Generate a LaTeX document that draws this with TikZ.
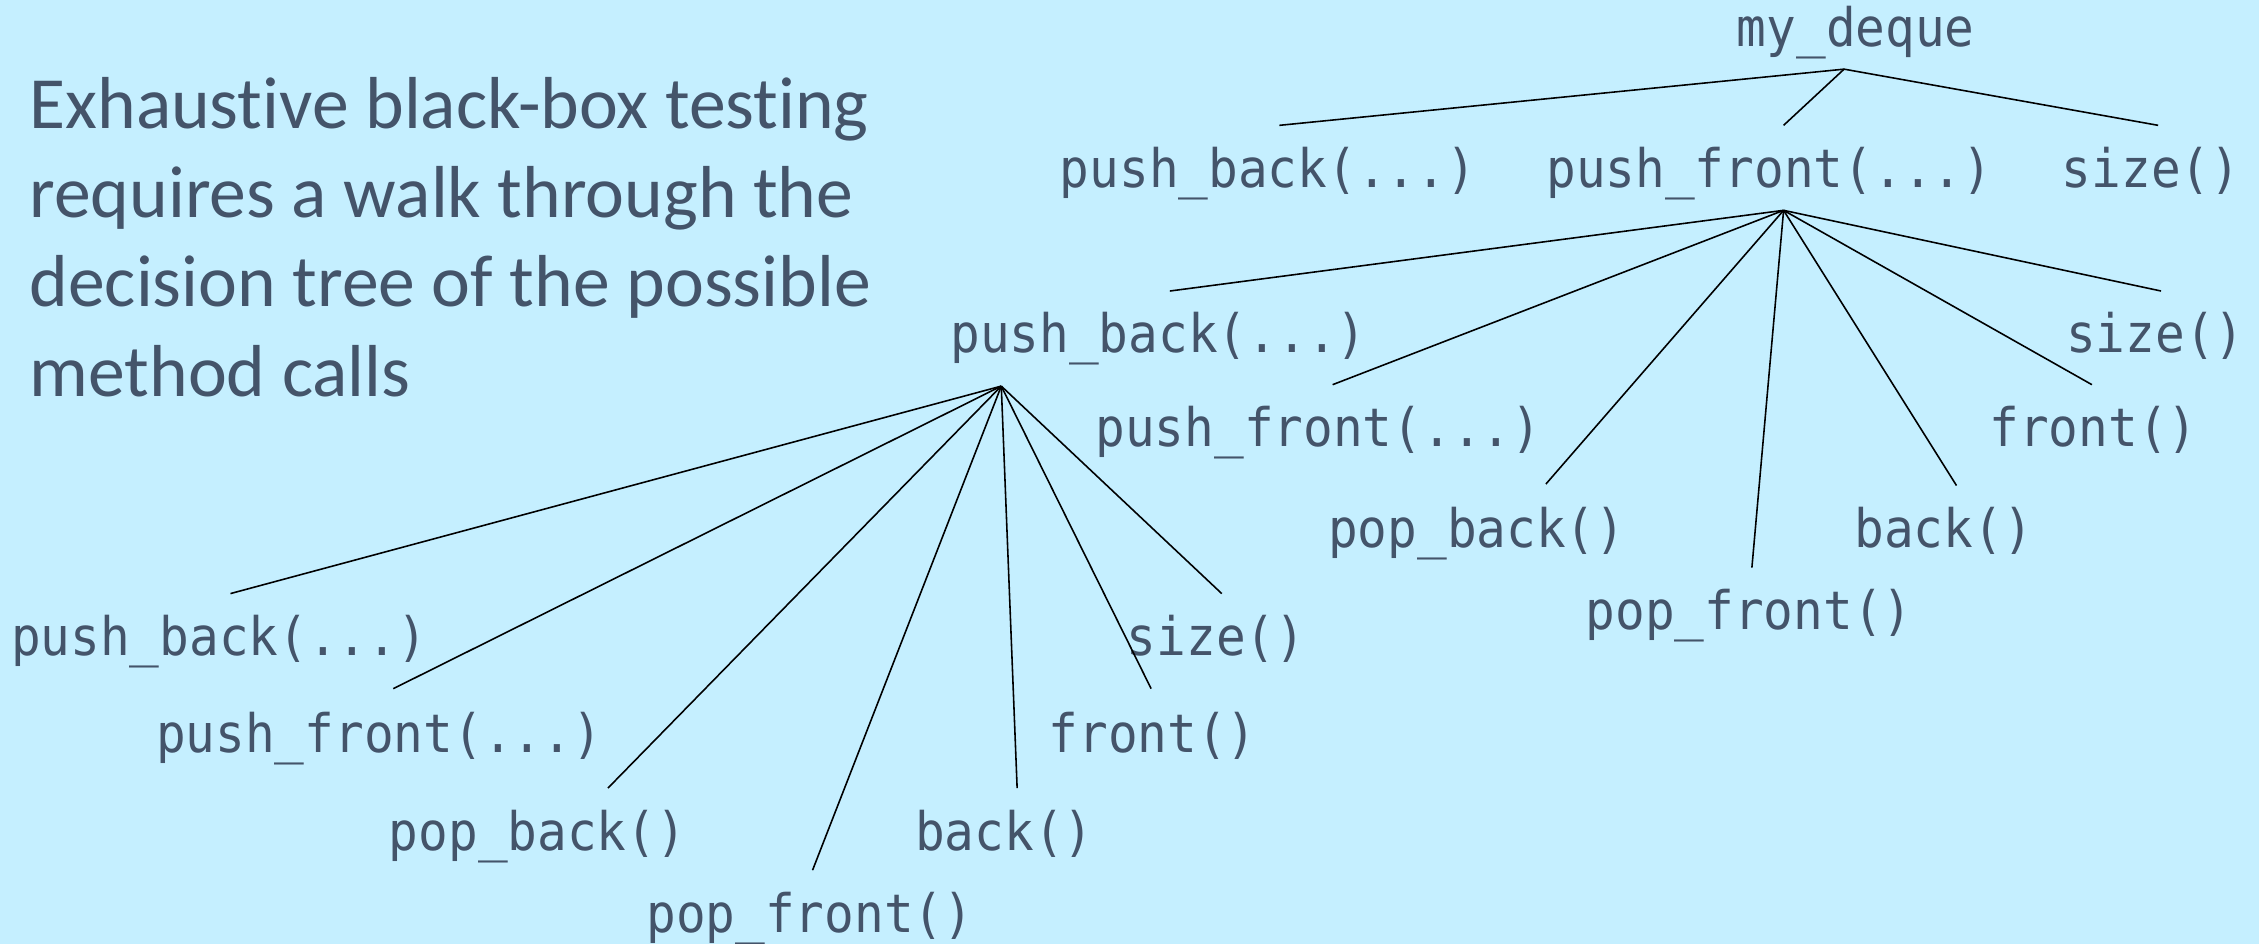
\documentclass[tikz,border=0pt]{standalone}
\usepackage{fontspec}
\setmainfont{Carlito}[Ligatures=NoCommon]
\newfontfamily\codefont[FakeStretch=0.93]{DejaVu Sans Mono}
\definecolor{bg}{RGB}{197,239,255}
\definecolor{txt}{RGB}{68,84,106}
\begin{document}
\begin{tikzpicture}[x=0.014407cm,y=-0.014407cm,
  call/.style={font=\codefont\fontsize{15.1}{18}\selectfont, text=txt, anchor=base, inner sep=0pt, xshift=0.03cm},
  intro/.style={font=\fontsize{20.95}{25.3}\selectfont, text=txt, anchor=base west, inner sep=0pt},
  edge/.style={draw=black, line width=0.45pt}]
\fill[bg] (0,0) rectangle (1568,655);
\useasboundingbox (0,0) rectangle (1568,655);

% intro text
\node[intro] (t1) at (20,89) {Exhaustive black-box testing};
\node[intro] (t2) at (20,151) {requires a walk through the};
\node[intro] (t3) at (20,213) {decision tree of the possible};
\node[intro] (t4) at (20,275) {method calls};

% level 0
\node[call] (root) at (1286,32) {my\_deque};
% level 1
\node[call] (pb) at (878,130) {push\_back(...)};
\node[call] (pf) at (1226,130) {push\_front(...)};
\node[call] (sz) at (1491,130) {size()};
% level 2 (children of push_front)
\node[call] (pfpb) at (802,245) {push\_back(...)};
\node[call] (pfpf) at (913,310) {push\_front(...)};
\node[call] (pfpob) at (1023,380) {pop\_back()};
\node[call] (pfpof) at (1212,437) {pop\_front()};
\node[call] (pfbk) at (1347,380) {back()};
\node[call] (pffr) at (1451,310) {front()};
\node[call] (pfsz) at (1494,245) {size()};
% level 3 (children of push_front -> push_back)
\node[call] (qpb) at (150,455) {push\_back(...)};
\node[call] (qpf) at (261,522) {push\_front(...)};
\node[call] (qpob) at (371,590) {pop\_back()};
\node[call] (qpof) at (560,647) {pop\_front()};
\node[call] (qbk) at (695,590) {back()};
\node[call] (qfr) at (798,522) {front()};
\node[call] (qsz) at (842,455) {size()};

% attachment points
\coordinate (a0) at (1280,48);
\coordinate (e-pb) at (888,87);
\coordinate (e-pf) at (1238,87);
\coordinate (e-sz) at (1498,87);
\coordinate (a1) at (1238,146);
\coordinate (e-pfpb) at (812,202);
\coordinate (e-pfpf) at (925,267);
\coordinate (e-pfpob) at (1073,336);
\coordinate (e-pfpof) at (1216,394);
\coordinate (e-pfbk) at (1358,337);
\coordinate (e-pffr) at (1452,267);
\coordinate (e-pfsz) at (1500,202);
\coordinate (a2) at (695,268);
\coordinate (e-qpb) at (160,412);
\coordinate (e-qpf) at (273,478);
\coordinate (e-qpob) at (422,547);
\coordinate (e-qpof) at (564,604);
\coordinate (e-qbk) at (706,547);
\coordinate (e-qfr) at (799,478);
\coordinate (e-qsz) at (848,412);

\foreach \c in {pb,pf,sz} \draw[edge] (a0) -- (e-\c);
\foreach \c in {pfpb,pfpf,pfpob,pfpof,pfbk,pffr,pfsz} \draw[edge] (a1) -- (e-\c);
\foreach \c in {qpb,qpf,qpob,qpof,qbk,qfr,qsz} \draw[edge] (a2) -- (e-\c);
\end{tikzpicture}
\end{document}
